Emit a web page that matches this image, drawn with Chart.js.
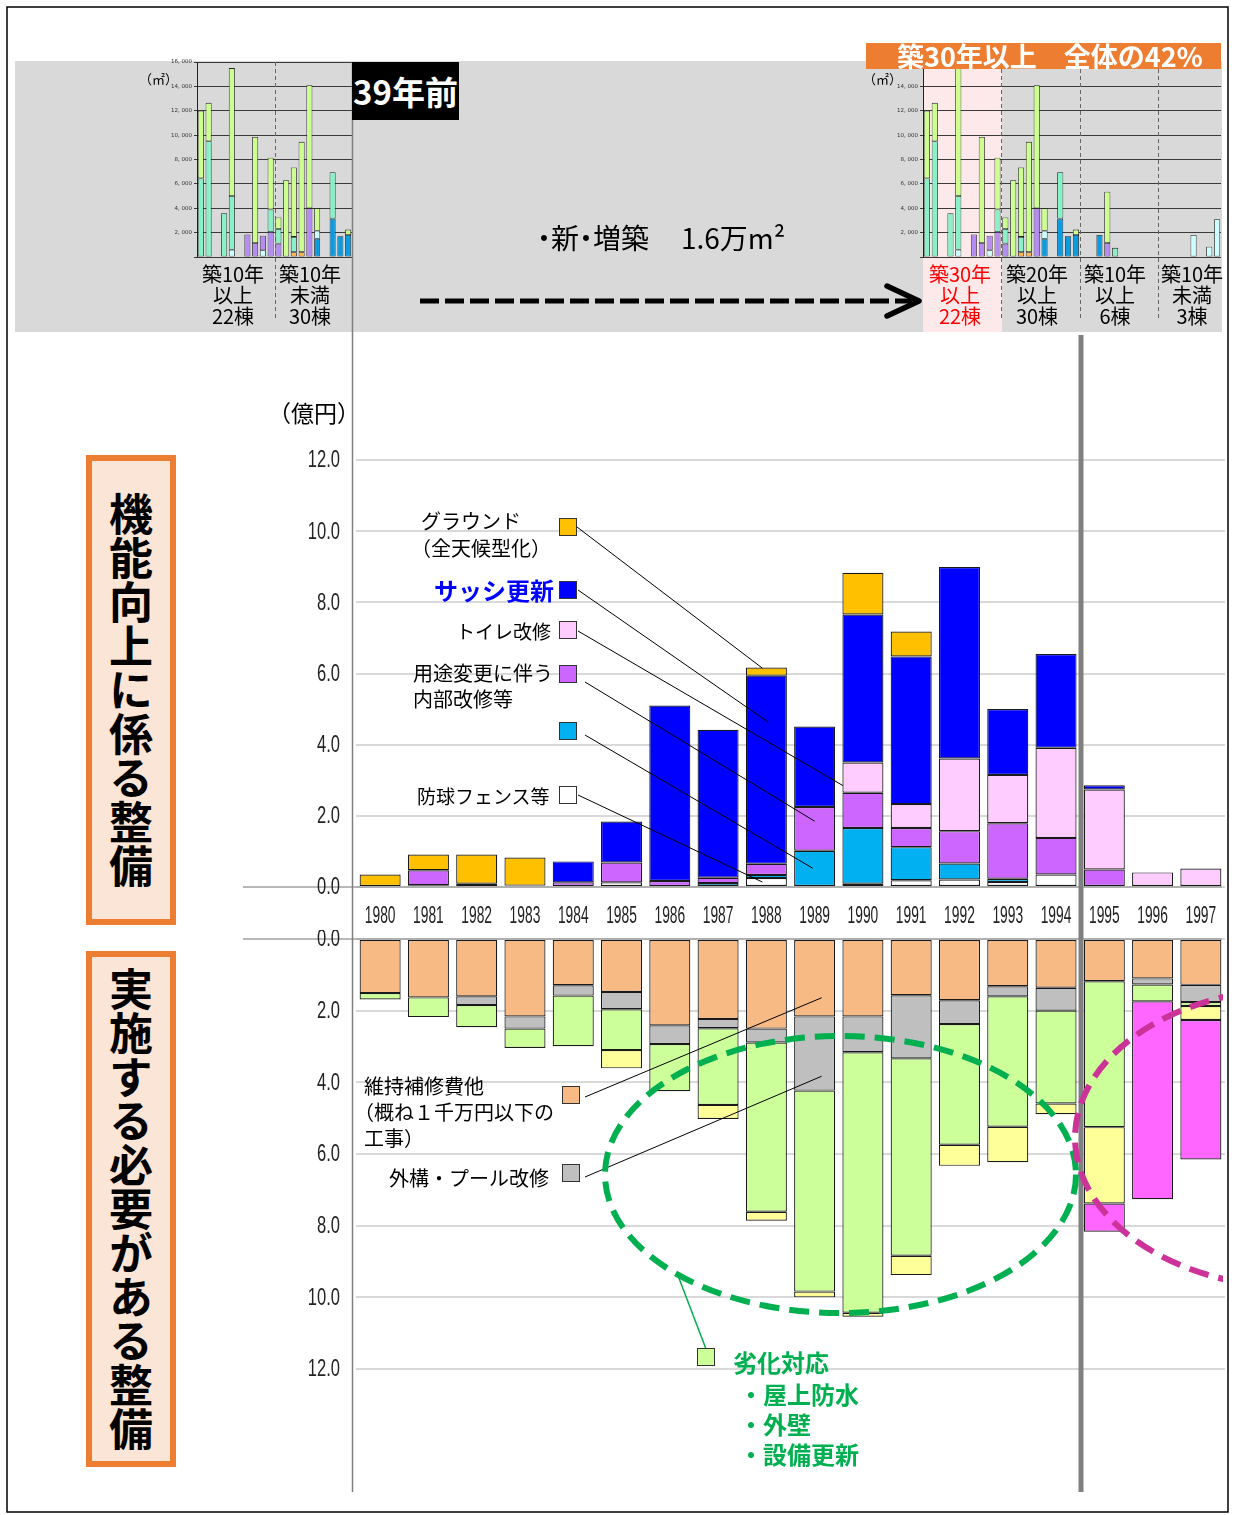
<!DOCTYPE html>
<html lang="ja">
<head>
<meta charset="utf-8">
<title>機能向上に係る整備・実施する必要がある整備</title>
<script src="https://cdn.jsdelivr.net/npm/chart.js@4.4.1/dist/chart.umd.min.js"></script>
<style>
  html, body { margin: 0; padding: 0; background: #fff; }
  body { width: 1234px; height: 1515px; position: relative; overflow: hidden;
         font-family: "Noto Sans CJK JP", "Noto Sans", sans-serif; color: #000; }
  .abs { position: absolute; white-space: nowrap; }
  canvas { position: absolute; }
  .sq { position: absolute; width: 16px; height: 16px; border: 1.5px solid #333; }
  .nd { margin: 0 -0.25em; }
  .vbox { position: absolute; left: 86px; width: 78px; border: 6px solid #ED7D31; background: #FBE5D6;
          display: flex; align-items: center; justify-content: center; }
  .vbox span { writing-mode: vertical-rl; font-size: 44px; letter-spacing: 0; font-weight: 700; line-height: 1; }
  .cap { position: absolute; width: 90px; text-align: center; font-size: 20px; line-height: 21px; }
</style>
</head>
<body>

<!-- top grey band and highlight -->
<div class="abs" style="left:15px;top:61px;width:1207px;height:271px;background:#D9D9D9;"></div>
<div class="abs" style="left:923px;top:69px;width:79px;height:263px;background:#FDE9E9;"></div>

<canvas id="miniL" width="225" height="280" style="left:130px;top:50px;"></canvas>
<canvas id="miniR" width="368" height="280" style="left:856px;top:50px;"></canvas>
<canvas id="upper" width="1234" height="597" style="left:0;top:340px;"></canvas>
<canvas id="lower" width="1234" height="450" style="left:0;top:930px;"></canvas>

<svg class="abs" width="1234" height="1515" style="left:0;top:0;">
  <defs><clipPath id="clipR"><rect x="0" y="0" width="1223" height="1515"/></clipPath></defs>
  <rect x="7" y="7" width="1221" height="1505" fill="none" stroke="#000" stroke-width="1.5"/>
  <line x1="352.5" y1="62" x2="352.5" y2="1492" stroke="#7F7F7F" stroke-width="1.5"/>
  <line x1="1081" y1="335" x2="1081" y2="1492" stroke="#808080" stroke-width="5"/>
  <line x1="420" y1="301" x2="912" y2="301" stroke="#000" stroke-width="5" stroke-dasharray="19 6"/>
  <polyline points="887,286 919,301 887,316" fill="none" stroke="#000" stroke-width="5.5" stroke-linecap="round" stroke-linejoin="round"/>
  <ellipse cx="840.5" cy="1174.5" rx="235.5" ry="138.5" fill="none" stroke="#00B050" stroke-width="6" stroke-dasharray="20 10"/>
  <ellipse clip-path="url(#clipR)" cx="1300" cy="1138" rx="225" ry="150" fill="none" stroke="#CC3399" stroke-width="6" stroke-dasharray="20 10"/>
  <line x1="706" y1="1349" x2="677" y2="1273" stroke="#00B050" stroke-width="1.5"/>
</svg>

<!-- top area texts -->
<div class="abs" style="left:866px;top:43px;width:355px;height:26px;background:#ED7D31;"></div>
<div class="abs" style="left:897px;top:41px;font-size:27px;line-height:30px;font-weight:700;color:#fff;">築30年以上　全体の42%</div>
<div class="abs" style="left:352px;top:62px;width:107px;height:58px;background:#000;color:#fff;font-size:33px;font-weight:700;line-height:58px;text-align:center;">39年前</div>
<div class="abs" style="left:139px;top:71px;font-size:13px;line-height:16px;">（㎡）</div>
<div class="abs" style="left:863px;top:71px;font-size:13px;line-height:16px;">（㎡）</div>
<div class="abs" style="left:537px;top:220px;font-size:28px;line-height:34px;"><span class="nd">・</span>新<span class="nd">・</span>増築</div>
<div class="abs" style="left:681px;top:220px;font-size:28px;line-height:34px;">1.6万m²</div>

<div class="cap" style="left:188px;top:263px;">築10年<br>以上<br>22棟</div>
<div class="cap" style="left:265px;top:263px;">築10年<br>未満<br>30棟</div>
<div class="cap" style="left:915px;top:263px;color:#FF0000;">築30年<br>以上<br>22棟</div>
<div class="cap" style="left:992px;top:263px;">築20年<br>以上<br>30棟</div>
<div class="cap" style="left:1070px;top:263px;">築10年<br>以上<br>6棟</div>
<div class="cap" style="left:1147px;top:263px;">築10年<br>未満<br>3棟</div>

<!-- side boxes -->
<div class="vbox" style="top:455px;height:458px;"><span>機能向上に係る整備</span></div>
<div class="vbox" style="top:951px;height:504px;"><span>実施する必要がある整備</span></div>

<div class="abs" style="left:268px;top:398px;font-size:23px;line-height:28px;">（億円）</div>

<!-- upper callouts -->
<div class="abs" style="left:421px;top:507px;font-size:20px;line-height:27px;">グラウンド<br><span style="margin-left:-10px;">（全天候型化）</span></div>
<div class="sq" style="left:559px;top:518px;background:#FFC000;"></div>
<div class="abs" style="left:434px;top:575px;font-size:24px;line-height:30px;font-weight:700;color:#0000FF;">サッシ更新</div>
<div class="sq" style="left:559px;top:581px;background:#0000FF;"></div>
<div class="abs" style="left:456px;top:618px;font-size:19px;line-height:26px;">トイレ改修</div>
<div class="sq" style="left:559px;top:621px;background:#FFCCFF;"></div>
<div class="abs" style="left:413px;top:660px;font-size:20px;line-height:26px;">用途変更に伴う<br>内部改修等</div>
<div class="sq" style="left:559px;top:665px;background:#CC66FF;"></div>
<div class="sq" style="left:559px;top:722px;background:#00B0F0;"></div>
<div class="abs" style="left:417px;top:783px;font-size:19px;line-height:26px;">防球フェンス等</div>
<div class="sq" style="left:559px;top:786px;background:#FFFFFF;"></div>

<!-- lower callouts -->
<div class="abs" style="left:364px;top:1073px;font-size:20px;line-height:26px;">維持補修費他<br><span style="margin-left:-10px;">（概ね１千万円以下の</span><br>工事）</div>
<div class="sq" style="left:562px;top:1086px;background:#F8BA84;"></div>
<div class="abs" style="left:389px;top:1165px;font-size:20px;line-height:26px;">外構・プール改修</div>
<div class="sq" style="left:562px;top:1164px;background:#BFBFBF;"></div>

<div class="sq" style="left:697px;top:1348px;background:#CCFF99;"></div>
<div class="abs" style="left:733px;top:1347px;font-size:24px;line-height:30px;font-weight:700;color:#00B050;">劣化対応</div>
<div class="abs" style="left:739px;top:1379px;font-size:24px;line-height:30px;font-weight:700;color:#00B050;">・屋上防水<br>・外壁<br>・設備更新</div>

<script>
const TICK_FONT = '23px "Liberation Sans", Arial, sans-serif';

// 年度
const years = ['1980', '1981', '1982', '1983', '1984', '1985', '1986', '1987', '1988',
               '1989', '1990', '1991', '1992', '1993', '1994', '1995', '1996', '1997'];

// 上段：機能向上に係る整備（億円）
const fence    = [0, 0, 0, 0, 0, 0.13, 0, 0, 0.25, 0, 0.09, 0.19, 0.21, 0.14, 0.35, 0, 0, 0];
const cyanWork = [0, 0.05, 0.09, 0, 0, 0, 0, 0.11, 0.09, 1.02, 1.57, 0.93, 0.45, 0.09, 0, 0, 0, 0];
const interior = [0, 0.42, 0, 0.04, 0.13, 0.56, 0.17, 0.15, 0.31, 1.23, 0.99, 0.54, 0.91, 1.56, 1.03, 0.49, 0, 0];
const toilet   = [0, 0, 0, 0, 0, 0, 0, 0, 0, 0, 0.85, 0.67, 2.04, 1.36, 2.53, 2.25, 0.41, 0.52];
const sash     = [0, 0, 0, 0, 0.59, 1.15, 4.93, 4.16, 5.29, 2.26, 4.16, 4.15, 5.38, 1.85, 2.64, 0.12, 0, 0];
const ground   = [0.35, 0.44, 0.82, 0.79, 0, 0, 0, 0, 0.23, 0, 1.17, 0.70, 0, 0, 0, 0, 0, 0];

// 下段：実施する必要がある整備（億円）
const maintenance   = [1.51, 1.63, 1.60, 2.16, 1.29, 1.48, 2.41, 2.23, 2.50, 2.16, 2.16, 1.57, 1.71, 1.32, 1.36, 1.18, 1.10, 1.28];
const exterior      = [0, 0, 0.24, 0.34, 0.29, 0.48, 0.52, 0.26, 0.39, 2.07, 1.00, 1.76, 0.66, 0.28, 0.64, 0, 0.17, 0.48];
const deterioration = [0.18, 0.55, 0.62, 0.54, 1.41, 1.14, 1.32, 2.14, 4.72, 5.61, 7.27, 5.51, 3.37, 3.64, 2.59, 4.07, 0.47, 0.11];
const otherLow      = [0, 0, 0, 0, 0, 0.51, 0, 0.39, 0.25, 0.16, 0.11, 0.54, 0.59, 0.99, 0.30, 2.13, 0, 0.39];
const magentaLow    = [0, 0, 0, 0, 0, 0, 0, 0, 0, 0, 0, 0, 0, 0, 0, 0.79, 5.52, 3.89];

// 小グラフ：延床面積（㎡）、39年前の20棟分
const miniPale   = [0, 0, 0, 0, 600, 0, 0, 0, 550, 0, 0, 0, 0, 0, 0, 0, 0, 0, 0, 0];
const miniOrange = [0, 0, 0, 0, 0, 0, 0, 0, 0, 0, 0, 0, 400, 400, 0, 0, 0, 0, 0, 0];
const miniPurple = [0, 0, 0, 0, 0, 0, 1850, 1150, 1200, 2050, 1100, 0, 0, 0, 4000, 0, 0, 0, 0, 0];
const miniBlue   = [0, 0, 0, 0, 0, 0, 0, 0, 0, 0, 0, 0, 0, 0, 0, 1500, 0, 3150, 1700, 1800];
const miniPale2  = [0, 0, 0, 0, 0, 0, 0, 0, 0, 0, 0, 0, 0, 0, 0, 650, 0, 0, 0, 0];
const miniAqua   = [6450, 9500, 0, 3600, 4400, 0, 0, 0, 0, 1850, 1200, 0, 1250, 0, 0, 0, 0, 3800, 0, 0];
const miniGreen  = [5550, 3150, 0, 0, 10500, 0, 0, 8700, 0, 4250, 950, 6300, 5700, 9050, 10100, 1850, 0, 0, 0, 450];
// 現在：その後に建った棟（18枠）
const newPale   = [0, 0, 0, 0, 0, 0, 0, 0, 0, 0, 0, 0, 0, 0, 1800, 0, 850, 3100];
const newPurple = [0, 0, 0, 1150, 0, 0, 0, 0, 0, 0, 0, 0, 0, 0, 0, 0, 0, 0];
const newBlue   = [0, 0, 1800, 0, 0, 0, 0, 0, 0, 0, 0, 0, 0, 0, 0, 0, 0, 0];
const newAqua   = [0, 0, 0, 0, 750, 0, 0, 0, 0, 0, 0, 0, 0, 0, 0, 0, 0, 0];
const newGreen  = [0, 0, 0, 4200, 0, 0, 0, 0, 0, 0, 0, 0, 0, 0, 0, 0, 0, 0];
const zeros18   = new Array(18).fill(0);

function bar(label, data, color) {
  return { label: label, data: data.map(v => v || null), backgroundColor: color,
           borderColor: '#1a1a1a', borderWidth: 1.2, borderSkipped: false };
}

// 0.0 の軸線を左側まで伸ばす
const axisExtend = {
  id: 'axisExtend',
  afterDraw(chart) {
    const ctx = chart.ctx;
    const y = chart.scales.y.getPixelForValue(0);
    ctx.save();
    ctx.strokeStyle = '#A0A0A0';
    ctx.lineWidth = 1.5;
    ctx.beginPath();
    ctx.moveTo(243, y);
    ctx.lineTo(chart.chartArea.right - 3, y);
    ctx.stroke();
    ctx.restore();
  }
};

// 目盛ラベルを縦長の細い字で描く（位置は軸から取る）
const narrowTicks = {
  id: 'narrowTicks',
  afterDraw(chart) {
    const ctx = chart.ctx;
    const { x, y } = chart.scales;
    ctx.save();
    ctx.fillStyle = '#222';
    ctx.font = TICK_FONT;
    ctx.textBaseline = 'middle';
    y.ticks.forEach((t, i) => {
      ctx.save();
      ctx.translate(y.right - 16, y.getPixelForTick(i) + 1);
      ctx.scale(0.72, 1);
      ctx.textAlign = 'right';
      ctx.fillText(t.value.toFixed(1), 0, 0);
      ctx.restore();
    });
    if (x.options.display) {
      x.ticks.forEach((t, i) => {
        ctx.save();
        ctx.translate(x.getPixelForTick(i), x.top + 30);
        ctx.scale(0.6, 1);
        ctx.textAlign = 'center';
        ctx.fillText(x.getLabelForValue(t.value), 0, 0);
        ctx.restore();
      });
    }
    ctx.restore();
  }
};

// 凡例の四角から棒への引き出し線
function leaders(list, top) {
  return {
    id: 'leaders',
    afterDatasetsDraw(chart) {
      const { ctx, scales: { x, y } } = chart;
      ctx.save();
      ctx.strokeStyle = '#000';
      ctx.lineWidth = 1;
      list.forEach(l => {
        ctx.beginPath();
        ctx.moveTo(l.from[0], l.from[1] - top);
        ctx.lineTo(x.getPixelForValue(l.idx) + l.dx, y.getPixelForValue(l.v));
        ctx.stroke();
      });
      ctx.restore();
    }
  };
}

const upperLeaders = [
  { from: [577, 527], idx: 8, dx: -4, v: 6.15 },
  { from: [578, 590], idx: 8, dx: 2, v: 4.63 },
  { from: [578, 631], idx: 10, dx: -20, v: 2.85 },
  { from: [585, 682], idx: 9, dx: 0, v: 1.85 },
  { from: [585, 735], idx: 9, dx: -2, v: 0.53 },
  { from: [578, 795], idx: 8, dx: -4, v: 0.14 }
];
const lowerLeaders = [
  { from: [585, 1097], idx: 9, dx: 7, v: 1.64 },
  { from: [585, 1177], idx: 9, dx: 7, v: 3.83 }
];

function yAxis(reverse) {
  return {
    stacked: true, min: 0, max: 12, reverse: reverse,
    ticks: { stepSize: 2, display: false },
    grid: { color: '#D9D9D9', lineWidth: 2, drawTicks: false },
    border: { display: false },
    afterFit: s => { s.width = 113; }
  };
}

new Chart(document.getElementById('upper'), {
  type: 'bar',
  data: {
    labels: years,
    datasets: [
      bar('防球フェンス等', fence, '#FFFFFF'),
      bar('', cyanWork, '#00B0F0'),
      bar('用途変更に伴う内部改修等', interior, '#CC66FF'),
      bar('トイレ改修', toilet, '#FFCCFF'),
      bar('サッシ更新', sash, '#0000FF'),
      bar('グラウンド（全天候型化）', ground, '#FFC000')
    ]
  },
  options: {
    responsive: false,
    animation: false,
    layout: { padding: { top: 120, left: 243, right: 9, bottom: 0 } },
    datasets: { bar: { barPercentage: 0.85, categoryPercentage: 1 } },
    plugins: { legend: { display: false }, tooltip: { enabled: false } },
    scales: {
      x: {
        stacked: true,
        grid: { display: false, drawTicks: false },
        border: { display: false },
        ticks: { display: false, autoSkip: false },
        afterFit: s => { s.height = 50; }
      },
      y: yAxis(false)
    }
  },
  plugins: [axisExtend, narrowTicks, leaders(upperLeaders, 340)]
});

new Chart(document.getElementById('lower'), {
  type: 'bar',
  data: {
    labels: years,
    datasets: [
      bar('維持補修費他', maintenance, '#F8BA84'),
      bar('外構・プール改修', exterior, '#BFBFBF'),
      bar('劣化対応', deterioration, '#CCFF99'),
      bar('', otherLow, '#FFFF99'),
      bar('', magentaLow, '#FF66FF')
    ]
  },
  options: {
    responsive: false,
    animation: false,
    layout: { padding: { top: 9, left: 243, right: 9, bottom: 11 } },
    datasets: { bar: { barPercentage: 0.85, categoryPercentage: 1 } },
    plugins: { legend: { display: false }, tooltip: { enabled: false } },
    scales: {
      x: { stacked: true, display: false },
      y: yAxis(true)
    }
  },
  plugins: [axisExtend, narrowTicks, leaders(lowerLeaders, 930)]
});

// 小グラフの区切り（破線）
function groupLines(groupSize) {
  return {
    id: 'groupLines',
    afterDraw(chart) {
      const { ctx, scales: { x }, chartArea } = chart;
      const n = chart.data.labels.length;
      ctx.save();
      ctx.strokeStyle = '#666';
      ctx.lineWidth = 1;
      ctx.setLineDash([4, 3]);
      for (let i = groupSize; i < n; i += groupSize) {
        const px = Math.round((x.getPixelForValue(i - 1) + x.getPixelForValue(i)) / 2) + 0.5;
        ctx.beginPath();
        ctx.moveTo(px, chartArea.top);
        ctx.lineTo(px, 268);
        ctx.stroke();
      }
      ctx.restore();
    }
  };
}

function miniChart(id, series) {
  const n = series[0].length;
  const colors = ['#CCFFFF', '#FFB547', '#B48CF2', '#0A9BE0', '#CCFFFF', '#8AF0C8', '#CCFF8F'];
  new Chart(document.getElementById(id), {
    type: 'bar',
    data: {
      labels: Array.from({ length: n }, (_, i) => String(i + 1)),
      datasets: series.map((s, k) => ({
        data: s.map(v => v || null), backgroundColor: colors[k],
        borderColor: '#222', borderWidth: 0.8, borderSkipped: false
      }))
    },
    options: {
      responsive: false,
      animation: false,
      layout: { padding: { top: 12, left: 0, right: 3, bottom: 73 } },
      datasets: { bar: { barPercentage: 0.78, categoryPercentage: 1 } },
      plugins: { legend: { display: false }, tooltip: { enabled: false } },
      scales: {
        x: { stacked: true, display: false },
        y: {
          stacked: true, min: 0, max: 16000,
          ticks: { stepSize: 2000, color: '#333', font: { family: 'DejaVu Sans', size: 5.5 }, padding: 2,
                   callback: v => v === 0 ? '' : v.toLocaleString('en-US').replace(',', ', ') },
          grid: { color: '#3a3a3a', lineWidth: 1, tickLength: 3 },
          border: { color: '#222' },
          afterFit: s => { s.width = 67; }
        }
      }
    },
    plugins: [groupLines(10)]
  });
}

miniChart('miniL', [miniPale, miniOrange, miniPurple, miniBlue, miniPale2, miniAqua, miniGreen]);
miniChart('miniR', [
  miniPale.concat(newPale), miniOrange.concat(zeros18), miniPurple.concat(newPurple),
  miniBlue.concat(newBlue), miniPale2.concat(zeros18), miniAqua.concat(newAqua), miniGreen.concat(newGreen)
]);
</script>
</body>
</html>
